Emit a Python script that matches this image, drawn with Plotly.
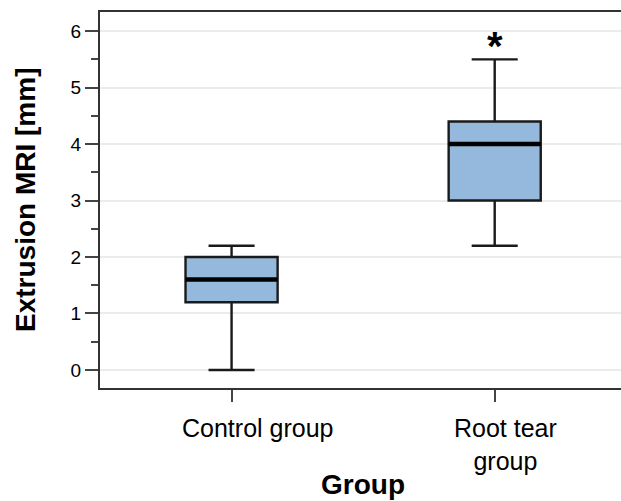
import plotly.graph_objects as go

categories = ["Control group", "Root tear<br>group"]
positions = [0, 1]
lower = [0.0, 2.2]
q1 = [1.2, 3.0]
median = [1.6, 4.0]
q3 = [2.0, 4.4]
upper = [2.2, 5.5]
y_ticks = [0, 1, 2, 3, 4, 5, 6]
star_y = 5.8

BOX_W = 0.35
FILL = "#95B9DC"

fig = go.Figure()
for i, p in enumerate(positions):
    fig.add_trace(go.Box(
        x=[p], q1=[q1[i]], median=[median[i]], q3=[q3[i]],
        lowerfence=[lower[i]], upperfence=[upper[i]],
        width=BOX_W, whiskerwidth=0.5, fillcolor=FILL,
        line=dict(color="#1a1a1a", width=2.4), boxpoints=False,
        showlegend=False, hoverinfo="skip"))
    fig.add_trace(go.Scatter(
        x=[p - BOX_W / 2, p + BOX_W / 2], y=[median[i], median[i]],
        mode="lines", line=dict(color="black", width=4.5),
        showlegend=False, hoverinfo="skip"))

fig.add_annotation(x=positions[1], y=star_y, text="<b>*</b>", showarrow=False,
                   font=dict(size=40, color="black", family="Liberation Sans"),
                   xref="x", yref="y", yshift=-4)

label_x = [0.10, 1.04]
for lx, c in zip(label_x, categories):
    fig.add_annotation(x=lx, y=0, xref="x", yref="paper", yshift=-24,
                       text=c, showarrow=False, yanchor="top",
                       font=dict(size=25, color="black", family="Liberation Sans"))

pw, ph = 621 - 100, 501 - 12 - 113
fig.add_annotation(x=(363 - 100) / pw, y=-(484 - 388) / ph, xref="paper", yref="paper",
                   xanchor="center", yanchor="middle",
                   text="<b>Group</b>", showarrow=False, font=dict(size=28, color="black"))
fig.add_annotation(x=-(100 - 25) / pw, y=(388 - 200) / ph, xref="paper", yref="paper",
                   xanchor="center", yanchor="middle",
                   text="<b>Extrusion MRI [mm]</b>", showarrow=False, textangle=-90,
                   font=dict(size=28, color="black"))

fig.update_layout(
    width=621, height=501,
    margin=dict(l=100, r=0, t=12, b=113),
    plot_bgcolor="white", paper_bgcolor="white",
    font=dict(family="Liberation Sans", color="black"),
    xaxis=dict(range=[-0.5, 1.48], tickvals=positions, ticktext=["", ""],
               ticks="outside", ticklen=12, tickwidth=2, tickcolor="#444",
               showline=True, linecolor="#333", linewidth=2, mirror=True,
               showgrid=False, zeroline=False, automargin=False),
    yaxis=dict(range=[-0.32, 6.34], tickvals=y_ticks,
               ticks="outside", ticklen=13, tickwidth=2, tickcolor="#444",
               minor=dict(dtick=0.5, tick0=0, ticks="outside", ticklen=7,
                          tickwidth=2, tickcolor="#444", showgrid=False),
               tickfont=dict(size=19),
               showline=True, linecolor="#333", linewidth=2,
               showgrid=True, gridcolor="#ebebeb", gridwidth=2, zeroline=False,
               automargin=False),
)
fig.write_html("out.html", config={"displayModeBar": False},
               post_script="document.body.style.margin='0';document.body.style.overflow='hidden';")
